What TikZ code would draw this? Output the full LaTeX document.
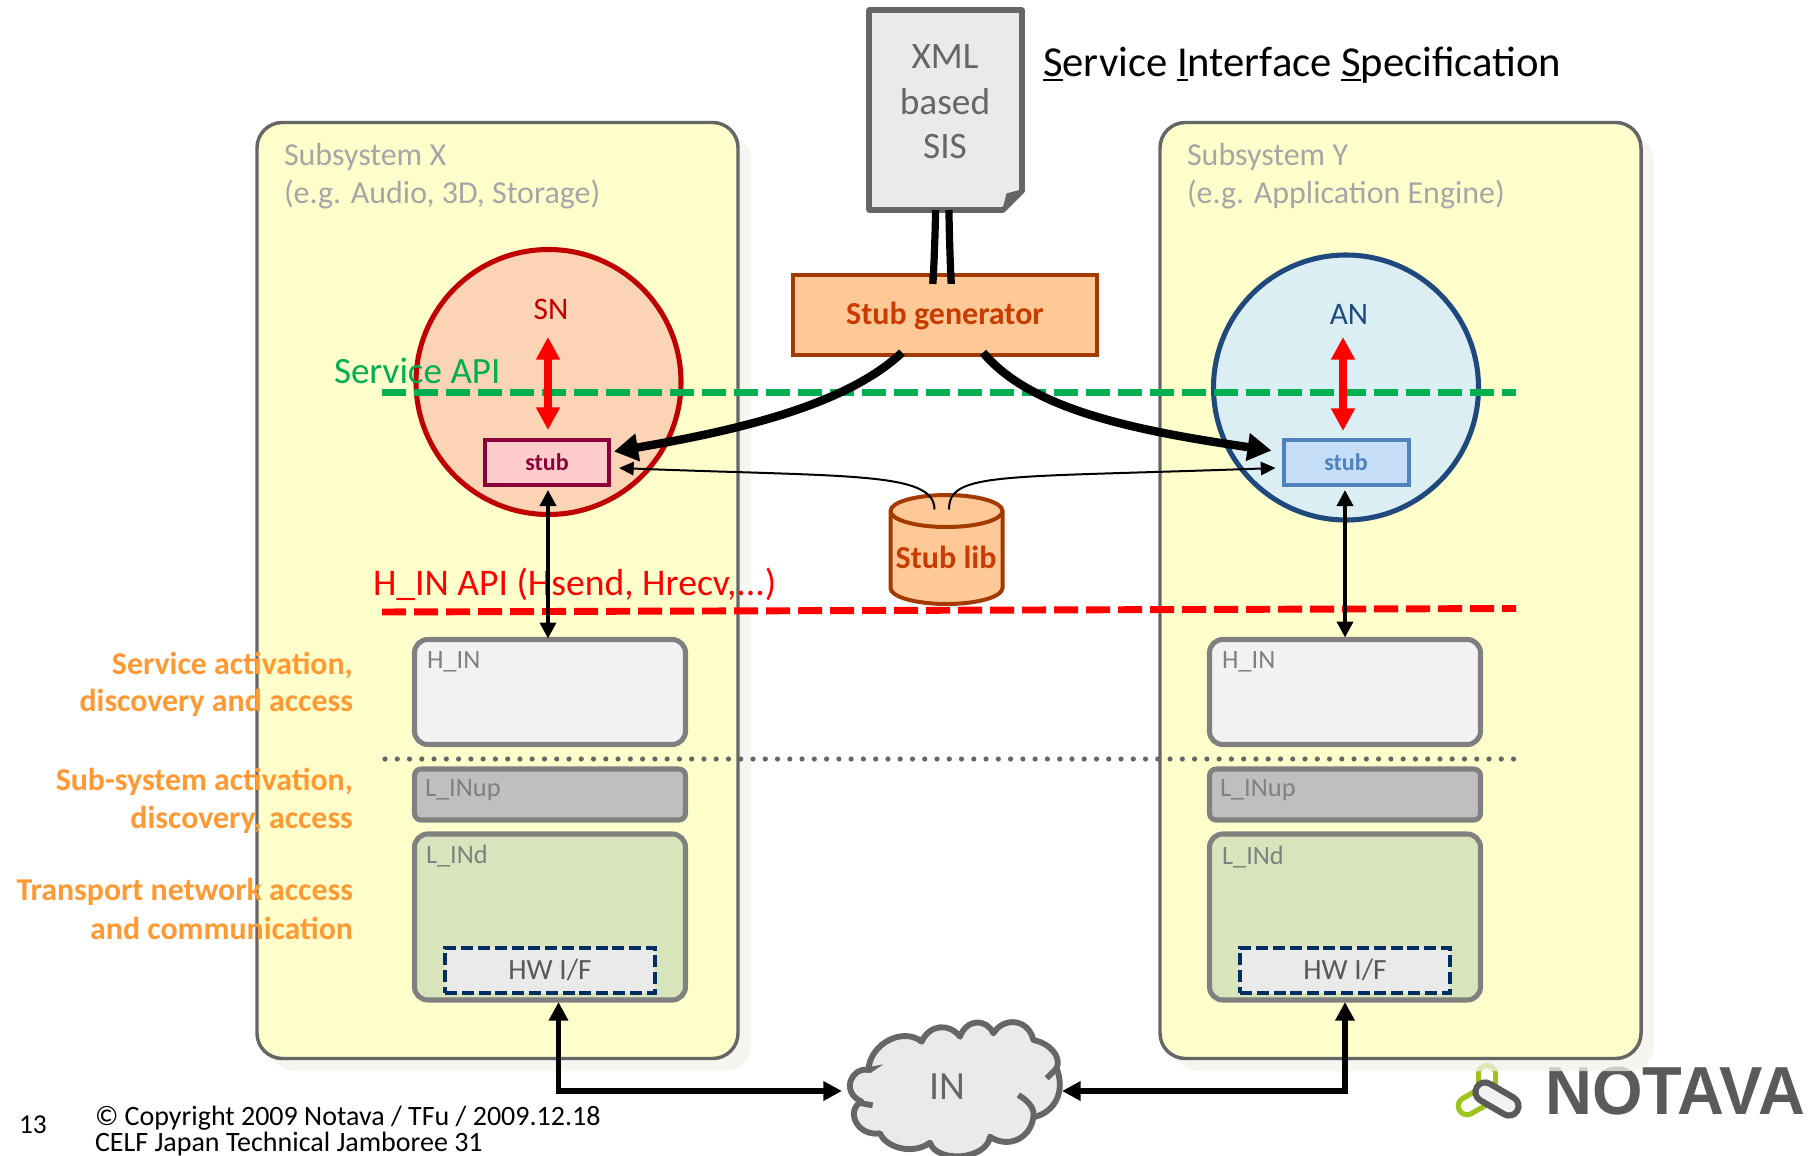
\documentclass[tikz,border=0pt]{standalone}
\usepackage{fontspec}
\setmainfont{Carlito}
\newfontfamily\logofont{Liberation Sans}
\usetikzlibrary{arrows.meta,calc,shapes.geometric}
\definecolor{panelfill}{HTML}{FFFFCC}
\definecolor{panelline}{HTML}{666666}
\definecolor{shadowc}{HTML}{F3F2EA}
\definecolor{docfill}{HTML}{EAEAEA}
\definecolor{genfill}{HTML}{FFC997}
\definecolor{genline}{HTML}{A33B00}
\definecolor{gentext}{HTML}{C83C00}
\definecolor{snfill}{HTML}{FBD4B6}
\definecolor{snline}{HTML}{C00000}
\definecolor{anfill}{HTML}{DBEEF4}
\definecolor{anline}{HTML}{1F497D}
\definecolor{stubx}{HTML}{8B0038}
\definecolor{stubxfill}{HTML}{FFCCCC}
\definecolor{stuby}{HTML}{4F81BD}
\definecolor{stubyfill}{HTML}{C6DEF8}
\definecolor{apigreen}{HTML}{00B050}
\definecolor{apired}{HTML}{FF0000}
\definecolor{orangetxt}{HTML}{FF9933}
\definecolor{layerline}{HTML}{808080}
\definecolor{hinfill}{HTML}{F2F2F2}
\definecolor{lupfill}{HTML}{BFBFBF}
\definecolor{ldfill}{HTML}{D8E4BC}
\definecolor{hwline}{HTML}{002D62}
\definecolor{logogreen}{HTML}{9DC31C}
\definecolor{logodark}{HTML}{5A5A5A}
\newcommand\fsz[1]{\fontsize{#1}{#1}\selectfont}
\newcommand\ulc[1]{\setbox0\hbox{#1}\rlap{\rule[-3.8pt]{\wd0}{1.5pt}}\box0}
\tikzset{
  x=0.75pt,y=-0.75pt,
  every node/.style={inner sep=0pt,outer sep=0pt},
  panel/.style={draw=panelline,fill=panelfill,line width=2.6pt,rounded corners=19pt,rectangle,minimum width=481*0.75pt,minimum height=936*0.75pt},
  panelshadow/.style={fill=shadowc,rounded corners=19pt,opacity=0.75},
  paneltext/.style={anchor=west,text=black!35,font=\fsz{24pt},align=left},
  gentxt/.style={text=gentext,font=\fsz{24pt}\bfseries},
  stubbox/.style={rectangle,line width=3pt,minimum width=124*0.75pt,minimum height=45*0.75pt,font=\fsz{18pt}\bfseries},
  circ/.style={circle,line width=3.8pt},
  layer/.style={rectangle,draw=layerline,line width=3.8pt,minimum width=271*0.75pt},
  layertext/.style={anchor=west,text=layerline,font=\fsz{19.8pt}},
  hwbox/.style={rectangle,draw=hwline,fill=docfill,line width=3pt,dash pattern=on 9pt off 3.6pt,minimum width=210*0.75pt,minimum height=45*0.75pt,text=black!65,font=\fsz{22pt}},
  sidetext/.style={anchor=east,text=orangetxt,font=\fsz{23.9pt}\bfseries},
  redarrow/.style={draw=apired,line width=6pt,{Triangle[length=17pt,width=17pt,color=apired]}-{Triangle[length=17pt,width=17pt,color=apired]}},
  linkarrow/.style={draw=black,line width=2.8pt,{Triangle[length=12pt,width=12pt]}-{Triangle[length=12pt,width=12pt]}},
  thickcurve/.style={draw=black,line width=6.3pt,-{Triangle[length=18pt,width=20pt]}},
  thincurve/.style={draw=black,line width=1.5pt,-{Triangle[length=11pt,width=10pt]}},
  busarrow/.style={draw=black,line width=4pt,{Triangle[length=14pt,width=14pt]}-{Triangle[length=14pt,width=14pt]},line join=miter},
  apiline/.style={line width=5.2pt,dash pattern=on 18pt off 6pt},
}
\begin{document}
\begin{tikzpicture}
\useasboundingbox (0,0) rectangle (1817,1156);
\fill[white] (0,0) rectangle (1817,1156);

% logo (below the panel's shadow)
\draw[logogreen,line width=17pt,line cap=round] (1487,1074) -- (1487,1095);
\draw[logogreen,line width=17pt,line cap=round] (1467,1106) -- (1490,1093);
\draw[white,line width=9pt,line cap=round] (1487,1074) -- (1487,1092);
\draw[white,line width=9pt,line cap=round] (1467,1106) -- (1488,1094);
\draw[logodark,line width=19pt,line cap=round] (1485,1092) -- (1509,1106);
\draw[white!95!black,line width=9.5pt,line cap=round] (1485,1092) -- (1509,1106);
\node[anchor=center,text=logodark,xscale=0.955] (notava) at (1675,1091.5) {\logofont\fsz{51pt}\bfseries NOTAVA};

% panels
\fill[panelshadow] (270,135) rectangle (751,1071);
\fill[panelshadow] (1173,135) rectangle (1654,1071);
\node[panel] (panelX) at (497.5,590.5) {};
\node[panel] (panelY) at (1400.5,590.5) {};
\node[paneltext] (subXa) at (284,157) {Subsystem X};
\node[paneltext] (subXb) at (284,195) {(e.g. Audio, 3D, Storage)};
\node[paneltext] (subYa) at (1187,157) {Subsystem Y};
\node[paneltext] (subYb) at (1187,195) {(e.g. Application Engine)};

% title
\node[anchor=west,font=\fsz{32pt}] (title) at (1043,65) {\ulc{S}ervice \ulc{I}nterface \ulc{S}pecification};

% circles
\node[circ,draw=snline,fill=snfill,minimum size=265*0.75pt] (SN) at (548.5,382) {};
\node[circ,draw=anline,fill=anfill,minimum size=265*0.75pt] (AN) at (1346,387.5) {};
\node[text=snline,font=\fsz{23.5pt}] (SNt) at (551,309) {SN};
\node[text=anline,font=\fsz{23.5pt}] (ANt) at (1349,314) {AN};

% API lines
\coordinate (gL) at (382,392.5);
\coordinate (gR) at (1516,392.5);
\coordinate (rL) at (382,612);
\coordinate (rR) at (1516,608.5);
\coordinate (dL) at (385,759);
\coordinate (dR) at (1518,759);
\draw[apiline,apigreen] (gL) -- (gR);
\draw[apiline,apired] (rL) -- (rR);
\draw[draw=black!60,line width=3.9pt,line cap=round,dash pattern=on 0pt off 9.2pt] (dL) -- (dR);
\node[anchor=west,text=apigreen,font=\fsz{27.8pt}] (svcapi) at (334,371) {Service API};
\node[anchor=west,text=apired,font=\fsz{28.2pt}] (hinapi) at (373,584) {H\_IN API (Hsend, Hrecv,...)};

% stubs
\node[stubbox,draw=stubx,fill=stubxfill,text=stubx] (stubX) at (547,462.5) {stub};
\node[stubbox,draw=stuby,fill=stubyfill,text=stuby,minimum width=125*0.75pt] (stubY) at (1346,462.5) {stub};

% red arrows
\coordinate (raT) at (548,337);
\coordinate (raB) at (548,430);
\coordinate (rbT) at (1343,337);
\coordinate (rbB) at (1343,431);
\draw[redarrow] (raT) -- (raB);
\draw[redarrow] (rbT) -- (rbB);

% layers left
\node[layer,fill=hinfill,rounded corners=10pt,minimum height=105*0.75pt] (hinX) at (550,692) {};
\node[layer,fill=lupfill,rounded corners=5pt,minimum height=51*0.75pt] (lupX) at (550,794.5) {};
\node[layer,fill=ldfill,rounded corners=10pt,minimum height=166*0.75pt] (ldX) at (550,917) {};
\node[hwbox] (hwX) at (550,970) {HW I/F};
\node[layertext] at (427,662) {H\_IN};
\node[layertext] at (425,790) {L\_INup};
\node[layertext] at (426,856) {L\_INd};
% layers right
\node[layer,fill=hinfill,rounded corners=10pt,minimum height=105*0.75pt] (hinY) at (1345,692) {};
\node[layer,fill=lupfill,rounded corners=5pt,minimum height=51*0.75pt] (lupY) at (1345,794.5) {};
\node[layer,fill=ldfill,rounded corners=10pt,minimum height=166*0.75pt] (ldY) at (1345,917) {};
\node[hwbox] (hwY) at (1345,970) {HW I/F};
\node[layertext] at (1222,662) {H\_IN};
\node[layertext] at (1220,790) {L\_INup};
\node[layertext] at (1222,857) {L\_INd};

% side labels
\node[sidetext] at (353,665) {Service activation,};
\node[sidetext] at (353,703) {discovery and access};
\node[sidetext] at (353,782) {Sub-system activation,};
\node[sidetext] at (353,820) {discovery, access};
\node[sidetext] at (353,892) {Transport network access};
\node[sidetext] at (353,928) {and communication};

% stub lib
\filldraw[draw=genline,fill=genfill,line width=3pt]
  (890.5,511) arc[start angle=180,end angle=360,x radius=56,y radius=16]
  -- (1002.5,588) arc[start angle=0,end angle=180,x radius=56,y radius=16] -- cycle;
\draw[genline,line width=3pt] (890.5,511) arc[start angle=180,end angle=0,x radius=56,y radius=16];
\node[minimum width=112*0.75pt,minimum height=109*0.75pt] (lib) at (946.5,550) {};
\node[gentxt] (libt) at (946,557) {Stub lib};

% document
\draw[panelline,fill=docfill,line width=4.2pt,line join=round]
  (869,10) -- (1022,10) -- (1022,191) -- (1003,210) -- (869,210) -- cycle;
\fill[panelline,line join=round,draw=panelline,line width=1pt] (1003,210) -- (1007,194) -- (1022,190) -- cycle;
\node[minimum width=153*0.75pt,minimum height=200*0.75pt] (doc) at (945.5,110) {};
\node[text=panelline,font=\fsz{28pt}] at (945,57) {XML};
\node[text=panelline,font=\fsz{28pt}] at (945,102) {based};
\node[text=panelline,font=\fsz{28pt}] at (945,147) {SIS};

% generator
\node[rectangle,draw=genline,fill=genfill,line width=3pt,minimum width=304*0.75pt,minimum height=80*0.75pt] (gen) at (945,314.5) {};
\node[gentxt] (gent) at (945,316) {Stub generator};

% doc to generator
\draw[black,line width=5.4pt] ($(doc.south)+(-10,0)$) .. controls +(0,25) and +(-1,35) .. ($(gen.north)+(-12,0)$);
\draw[black,line width=5.4pt] ($(doc.south)+(3.5,0)$) .. controls +(0,25) and +(1,35) .. ($(gen.north)+(6,0)$);

% thick curves
\draw[thickcurve] ($(gen.south)+(-43,-2)$) .. controls +(-55,52) and (740,430) .. ($(stubX.east)+(5,-11)$);
\draw[thickcurve] ($(gen.south)+(38,-2)$) .. controls +(47,56) and (1130,430) .. ($(stubY.west)+(-12,-12)$);

% thin curves
\draw[thincurve] ($(lib.north)+(-12,14)$) .. controls +(0,-38) and (850,477) .. ($(stubX.east)+(10,5.5)$);
\draw[thincurve] ($(lib.north)+(2.5,14)$) .. controls +(0,-38) and (1000,478) .. ($(stubY.west)+(-8,5.5)$);

% link arrows
\draw[linkarrow] ($(stubX.south)+(1,5)$) -- ($(hinX.north)+(-2,-1)$);
\draw[linkarrow] ($(stubY.south)+(-1,5)$) -- ($(hinY.north)+(0,-2)$);

% cloud
\begin{scope}[shift={(820,960)},x=0.25pt,y=-0.25pt]
\filldraw[draw=panelline,fill=docfill,line width=4.4pt,line join=round]
  (145,330) .. controls (150,250) and (250,200) .. (305,245)
  .. controls (330,190) and (390,190) .. (420,230)
  .. controls (440,175) and (500,175) .. (520,220)
  .. controls (550,170) and (625,175) .. (640,240)
  .. controls (690,250) and (725,290) .. (710,325)
  .. controls (735,390) and (710,455) .. (640,472)
  .. controls (630,540) and (560,565) .. (510,530)
  .. controls (500,600) and (350,610) .. (330,548)
  .. controls (280,585) and (200,565) .. (180,520)
  .. controls (110,530) and (75,450) .. (125,425)
  .. controls (60,395) and (95,320) .. (145,330) -- cycle;
\draw[panelline,line width=4.4pt] (595,405) .. controls (630,425) and (645,450) .. (640,472);
\draw[panelline,line width=4.4pt] (680,355) -- (710,325);
\draw[panelline,line width=4.4pt] (158,436) -- (115,428);
\fill[panelline] (142,322) -- (190,313) -- (150,340) -- cycle;
\end{scope}
\node[text=panelline,font=\fsz{30pt}] (IN) at (947,1087) {IN};

% bus arrows
\coordinate (ctipL) at (842,1091);
\coordinate (ctipR) at (1062,1091);
\draw[busarrow] ($(ldX.south)+(8.5,2)$) |- (ctipL);
\draw[busarrow] ($(ldY.south)+(0,2)$) |- (ctipR);

% footer
\node[anchor=base west,font=\fsz{20.5pt}] (pg) at (19,1133) {13};
\node[anchor=base west,font=\fsz{21pt}] (cp1) at (95,1125) {© Copyright 2009 Notava / TFu / 2009.12.18};
\node[anchor=base west,font=\fsz{21pt}] (cp2) at (95,1151) {CELF Japan Technical Jamboree 31};
\end{tikzpicture}
\end{document}
